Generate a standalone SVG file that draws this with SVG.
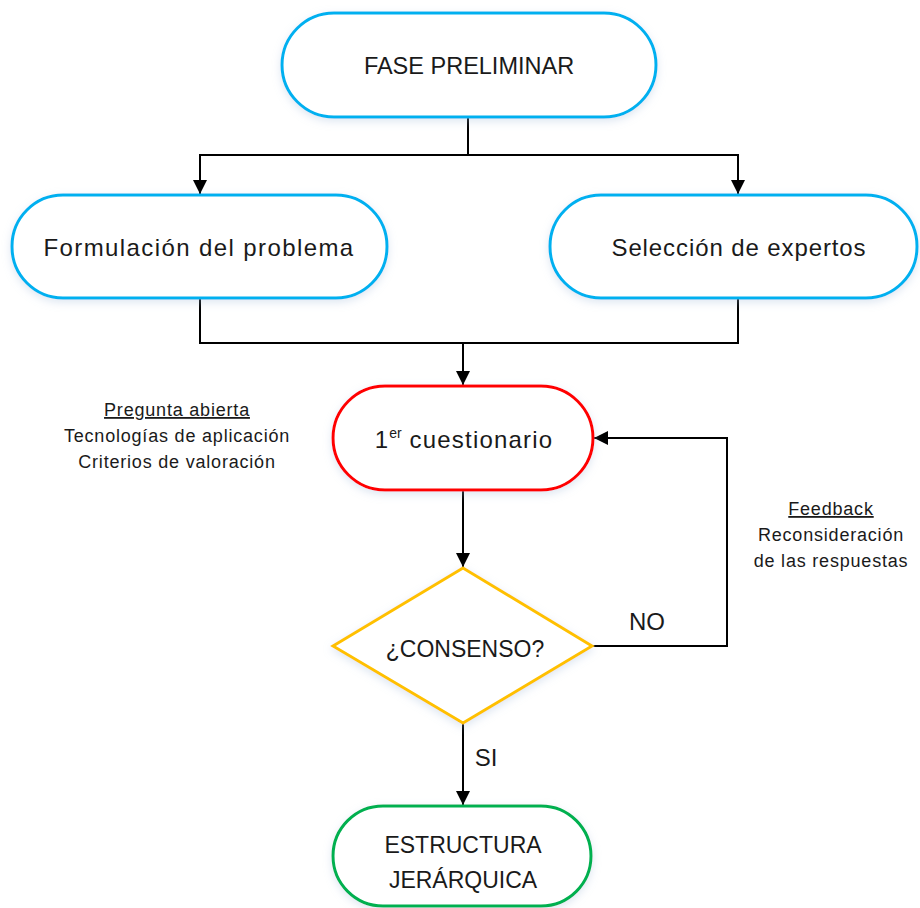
<svg xmlns="http://www.w3.org/2000/svg" width="920" height="908" viewBox="0 0 920 908">
  <defs>
    <style>
      .node { fill: #ffffff; stroke-width: 3; filter: url(#glow); }
      .blue { stroke: #00B0F0; }
      .red { stroke: #FF0000; }
      .yellow { stroke: #FFC000; }
      .green { stroke: #00B050; }
      .lbl { font-family: "Liberation Sans", Arial, sans-serif; font-size: 23px; fill: #1a1a1a; text-anchor: middle; }
      .mixed { font-size: 24px; letter-spacing: 1.2px; }
      .note { font-family: "Liberation Sans", Arial, sans-serif; font-size: 18px; letter-spacing: 0.8px; fill: #1a1a1a; text-anchor: middle; }
      .wire { fill: none; stroke: #000000; stroke-width: 2; }
    </style>
    <filter id="glow" x="-10%" y="-20%" width="120%" height="140%">
      <feDropShadow dx="0" dy="3" stdDeviation="4" flood-color="#9fb8d8" flood-opacity="0.35"/>
    </filter>
    <marker id="arrow" viewBox="0 0 10 10" refX="10" refY="5" markerWidth="7" markerHeight="7" markerUnits="strokeWidth" orient="auto">
      <path d="M0,0 L10,5 L0,10 Z" fill="#000000"/>
    </marker>
  </defs>

  <!-- connectors -->
  <g id="connectors">
    <path class="wire" d="M468,117 V155 H200 V194" marker-end="url(#arrow)"/>
    <path class="wire" d="M468,155 H738 V194" marker-end="url(#arrow)"/>
    <path class="wire" d="M200,298 V343 H738 V298"/>
    <path class="wire" d="M463,343 V385" marker-end="url(#arrow)"/>
    <path class="wire" d="M463,490 V567" marker-end="url(#arrow)"/>
    <path class="wire" d="M592,646 H727 V438 H594" marker-end="url(#arrow)"/>
    <path class="wire" d="M463,723 V805" marker-end="url(#arrow)"/>
    <text class="lbl" x="647" y="630" style="font-size:24px">NO</text>
    <text class="lbl" x="486" y="766" style="font-size:24px">SI</text>
  </g>

  <g id="fase-preliminar">
    <rect class="node blue" x="282" y="13" width="374" height="104" rx="52"/>
    <text class="lbl" x="469" y="74" style="font-size:23.5px">FASE PRELIMINAR</text>
  </g>

  <g id="formulacion">
    <rect class="node blue" x="12" y="195" width="375" height="103" rx="51"/>
    <text class="lbl mixed" x="199" y="256" style="letter-spacing:1.4px">Formulación del problema</text>
  </g>

  <g id="seleccion">
    <rect class="node blue" x="550" y="195" width="367" height="103" rx="51"/>
    <text class="lbl mixed" x="739" y="256" style="letter-spacing:0.9px">Selección de expertos</text>
  </g>

  <g id="cuestionario">
    <rect class="node red" x="333" y="386" width="260" height="104" rx="52"/>
    <text class="lbl mixed" x="464" y="448">1<tspan dy="-10" style="font-size:14px;letter-spacing:0">er</tspan><tspan dy="10"> cuestionario</tspan></text>
  </g>

  <g id="consenso">
    <polygon class="node yellow" points="463,568 592,646 463,723 333,646"/>
    <text class="lbl" x="465" y="657">¿CONSENSO?</text>
  </g>

  <g id="estructura">
    <rect class="node green" x="333" y="806" width="258" height="100" rx="50"/>
    <text class="lbl" x="463" y="853">ESTRUCTURA</text>
    <text class="lbl" x="463" y="888">JERÁRQUICA</text>
  </g>

  <g id="nota-cuestionario">
    <text class="note" x="177" y="416" text-decoration="underline">Pregunta abierta</text>
    <text class="note" x="177" y="442">Tecnologías de aplicación</text>
    <text class="note" x="177" y="468">Criterios de valoración</text>
  </g>

  <g id="nota-feedback">
    <text class="note" x="831" y="515" text-decoration="underline">Feedback</text>
    <text class="note" x="831" y="541">Reconsideración</text>
    <text class="note" x="831" y="567">de las respuestas</text>
  </g>
</svg>
